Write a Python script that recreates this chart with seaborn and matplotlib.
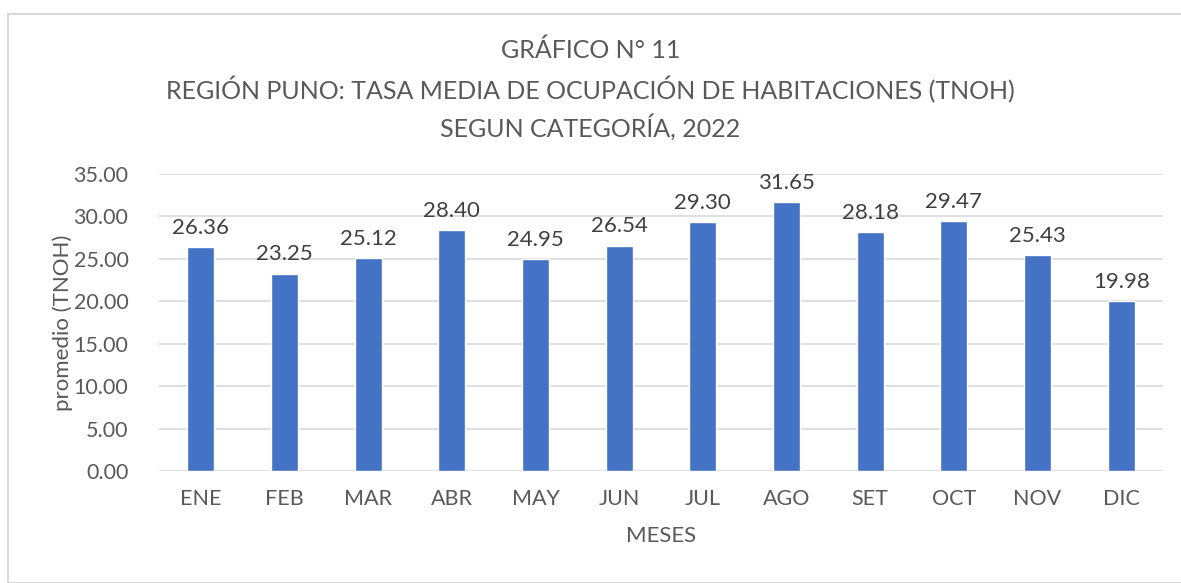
import pandas as pd
import seaborn as sns
import matplotlib.pyplot as plt
from matplotlib.patches import Rectangle

meses = ["ENE", "FEB", "MAR", "ABR", "MAY", "JUN", "JUL", "AGO", "SET", "OCT", "NOV", "DIC"]
tnoh = [26.36, 23.25, 25.12, 28.40, 24.95, 26.54, 29.30, 31.65, 28.18, 29.47, 25.43, 19.98]
yticks = [0, 5, 10, 15, 20, 25, 30, 35]

df = pd.DataFrame({"Mes": meses, "TNOH": tnoh})

sns.set_style("white")
plt.rcParams["font.family"] = ["Lato", "DejaVu Sans"]
gray = "#595959"

fig = plt.figure(figsize=(11.81, 5.83), dpi=100)
# outer chart border like the spreadsheet frame
fig.patches.append(Rectangle((8 / 1181, 0), 1.1, 1 - 14 / 583, transform=fig.transFigure,
                             fill=False, edgecolor="#d9d9d9", linewidth=1.5))
ax = fig.add_axes([159 / 1181, 1 - 471 / 583, 1004 / 1181, (471 - 174) / 583])

sns.barplot(data=df, x="Mes", y="TNOH", color="#4472c4", width=0.32, saturation=1, ax=ax)

# value labels above bars
for i, v in enumerate(tnoh):
    ax.text(i, v + 1.1, f"{v:.2f}", ha="center", va="bottom", fontsize=16, color="#404040")

ax.set_ylim(0, 35)
ax.set_yticks(yticks)
ax.set_yticklabels([f"{t:.2f}" for t in yticks])
ax.yaxis.grid(True, color="#d9d9d9", linewidth=1.2)
ax.set_axisbelow(True)
sns.despine(ax=ax, left=True, bottom=True, top=True, right=True)
ax.tick_params(axis="both", length=0, labelsize=15.5, colors=gray)
ax.tick_params(axis="x", pad=13)
ax.tick_params(axis="y", pad=22)

ax.set_xlabel("MESES", fontsize=16, color=gray, labelpad=12)
ax.set_ylabel("promedio (TNOH)", fontsize=16, color=gray)
ax.yaxis.set_label_coords(-(159 - 73) / 1004, 0.5)

fig.text(0.5, 1 - 50 / 583, "GRÁFICO N° 11", ha="center", va="center", fontsize=18, color=gray)
fig.text(0.5, 1 - 90 / 583, "REGIÓN PUNO: TASA MEDIA DE OCUPACIÓN DE HABITACIONES (TNOH)",
         ha="center", va="center", fontsize=18, color=gray)
fig.text(0.5, 1 - 127 / 583, "SEGUN CATEGORÍA, 2022", ha="center", va="center", fontsize=18, color=gray)

plt.savefig("out.png", dpi=100)
